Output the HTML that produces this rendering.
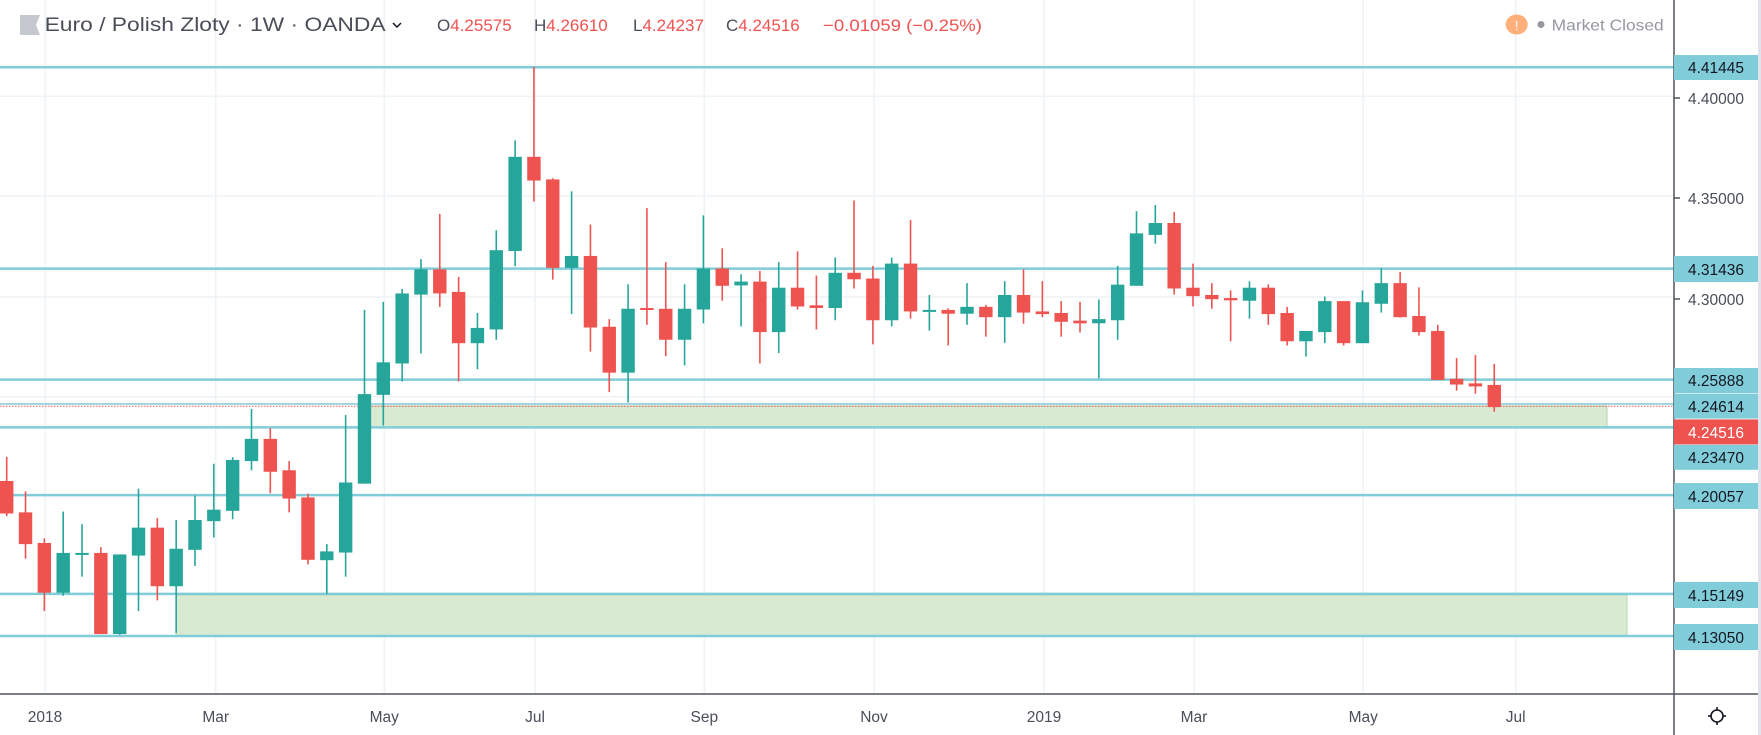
<!DOCTYPE html>
<html><head><meta charset="utf-8"><style>
html,body{margin:0;padding:0;background:#fff;width:1761px;height:735px;overflow:hidden}
svg{display:block}
text{font-family:"Liberation Sans","DejaVu Sans",sans-serif}
</style></head><body>
<svg id="s" width="1761" height="735" viewBox="0 0 1761 735" xmlns="http://www.w3.org/2000/svg">
<g id="grid" stroke="#eef3f7" stroke-width="1.5">
<line x1="45.3" y1="0" x2="45.3" y2="694"/><line x1="215.7" y1="0" x2="215.7" y2="694"/><line x1="384.3" y1="0" x2="384.3" y2="694"/><line x1="535" y1="0" x2="535" y2="694"/><line x1="704.3" y1="0" x2="704.3" y2="694"/><line x1="874" y1="0" x2="874" y2="694"/><line x1="1044" y1="0" x2="1044" y2="694"/><line x1="1194" y1="0" x2="1194" y2="694"/><line x1="1363.3" y1="0" x2="1363.3" y2="694"/><line x1="1515.7" y1="0" x2="1515.7" y2="694"/>
<line x1="0" y1="96.4" x2="1674" y2="96.4"/><line x1="0" y1="196" x2="1674" y2="196"/><line x1="0" y1="297" x2="1674" y2="297"/><line x1="0" y1="396.8" x2="1674" y2="396.8"/>
</g>
<rect x="370" y="406" width="1237" height="21.4" fill="#d9ead3" stroke="#b5d6ae" stroke-width="1"/>
<rect x="176" y="595" width="1451" height="41" fill="#d9ead3" stroke="#b5d6ae" stroke-width="1"/>
<g stroke="#80ccd9" stroke-width="2.5">
<line x1="0" y1="67.3" x2="1674" y2="67.3"/><line x1="0" y1="268.6" x2="1674" y2="268.6"/><line x1="0" y1="379.6" x2="1674" y2="379.6"/><line x1="0" y1="404" x2="1674" y2="404" stroke-width="1.5"/><line x1="0" y1="427.4" x2="1674" y2="427.4"/><line x1="0" y1="495.1" x2="1674" y2="495.1"/><line x1="0" y1="593.9" x2="1674" y2="593.9"/><line x1="0" y1="636" x2="1674" y2="636"/>
</g>
<line x1="0" y1="406.3" x2="1674" y2="406.3" stroke="#ef5350" stroke-width="1" stroke-dasharray="1.5,1.5"/>
<g id="candles"></g>
<!-- axes -->
<line x1="1674" y1="0" x2="1674" y2="735" stroke="#50535e" stroke-width="1.5"/>
<line x1="0" y1="694" x2="1761" y2="694" stroke="#50535e" stroke-width="1.5"/>
<rect x="1758" y="0" width="3" height="735" fill="#e0e3eb"/>
<g font-size="15.5" fill="#4a4e59">
<text x="45" y="722" text-anchor="middle">2018</text><text x="215.7" y="722" text-anchor="middle">Mar</text><text x="384.3" y="722" text-anchor="middle">May</text><text x="535" y="722" text-anchor="middle">Jul</text><text x="704.3" y="722" text-anchor="middle">Sep</text><text x="874" y="722" text-anchor="middle">Nov</text><text x="1044" y="722" text-anchor="middle">2019</text><text x="1194" y="722" text-anchor="middle">Mar</text><text x="1363.3" y="722" text-anchor="middle">May</text><text x="1515.7" y="722" text-anchor="middle">Jul</text>
</g>
<g stroke="#50535e" stroke-width="1.5">
<line x1="1674" y1="98" x2="1680" y2="98"/><line x1="1674" y1="198" x2="1680" y2="198"/><line x1="1674" y1="299" x2="1680" y2="299"/>
</g>
<g font-size="15.5" fill="#4a4e59">
<text x="1688" y="104">4.40000</text><text x="1688" y="204">4.35000</text><text x="1688" y="305">4.30000</text>
</g>
<g fill="#80ccd9">
<rect x="1674" y="55" width="84" height="25"/><rect x="1674" y="256" width="84" height="26"/><rect x="1674" y="368" width="84" height="25"/><rect x="1674" y="393.6" width="84" height="25"/><rect x="1674" y="444.8" width="84" height="25"/><rect x="1674" y="483" width="84" height="26"/><rect x="1674" y="582" width="84" height="26"/><rect x="1674" y="624" width="84" height="26"/>
</g>
<rect x="1674" y="419.4" width="84" height="25" fill="#ef5350"/>
<g font-size="15.5" fill="#131722">
<text x="1688" y="73">4.41445</text><text x="1688" y="275">4.31436</text><text x="1688" y="386">4.25888</text><text x="1688" y="412">4.24614</text><text x="1688" y="463">4.23470</text><text x="1688" y="502">4.20057</text><text x="1688" y="601">4.15149</text><text x="1688" y="643">4.13050</text>
</g>
<text x="1688" y="438" font-size="15.5" fill="#fff">4.24516</text>
<!-- gear -->
<g transform="translate(1717,716)" stroke="#131722" stroke-width="1.6" fill="none">
<circle r="6"/><line x1="-9" y1="0" x2="-6" y2="0"/><line x1="6" y1="0" x2="9" y2="0"/><line x1="0" y1="-9" x2="0" y2="-6"/><line x1="0" y1="6" x2="0" y2="9"/>
</g>
<!-- header -->
<polygon points="20,15 40,15 36,25 40,35 20,35" fill="#c5c8cf"/>
<text x="44.6" y="31" font-size="19" fill="#4a4e59" textLength="341" lengthAdjust="spacingAndGlyphs">Euro / Polish Zloty · 1W · OANDA</text>
<path d="M393,23 l4,4 l4,-4" stroke="#131722" stroke-width="1.5" fill="none"/>
<g font-size="17">
<text x="437" y="31" fill="#4a4e59">O<tspan fill="#ef5350">4.25575</tspan></text>
<text x="534" y="31" fill="#4a4e59">H<tspan fill="#ef5350">4.26610</tspan></text>
<text x="633" y="31" fill="#4a4e59">L<tspan fill="#ef5350">4.24237</tspan></text>
<text x="726" y="31" fill="#4a4e59">C<tspan fill="#ef5350">4.24516</tspan></text>
<text x="823" y="31" fill="#ef5350" textLength="159" lengthAdjust="spacingAndGlyphs">−0.01059 (−0.25%)</text>
</g>
<ellipse cx="1516.7" cy="24.5" rx="11" ry="10" fill="#ffb07a"/>
<text x="1516.7" y="30" font-size="13" fill="#fff" text-anchor="middle">!</text>
<circle cx="1541" cy="24.5" r="3.5" fill="#9598a1"/>
<text x="1551.7" y="30.5" font-size="16" fill="#9598a1" textLength="112" lengthAdjust="spacingAndGlyphs">Market Closed</text>
</svg>
<script>
var d=[[1037,1100,1185,1192,0],[1127,1182,1265,1303,0],[1250,1262,1392,1440,0],[1180,1288,1392,1400,1],[1213,1288,1292,1350,1],[1273,1288,1500,1500,0],[1292,1292,1500,1502,1],[1120,1222,1295,1440,1],[1197,1222,1375,1412,0],[1202,1277,1375,1497,1],
[1138,1202,1280,1322,1],[1055,1175,1205,1248,1],[1038,1045,1178,1200,1],[912,990,1048,1072,1],[962,990,1076,1132,0],[1048,1072,1146,1182,0],[1133,1143,1306,1318,0],[1265,1284,1307,1395,1],[928,1104,1287,1350,1],[653,873,1107,1107,1],
[632,790,875,955,1],[598,610,793,840,1],[520,547,613,767,1],[402,547,610,645,0],[567,606,740,840,0],[661,700,740,808,1],[445,497,704,731,1],[210,253,499,539,1],[18,253,315,370,0],[309,312,543,574,0],
[343,512,543,664,1],[430,512,699,762,0],[677,697,817,868,0],[586,650,817,895,1],[387,648,652,692,0],[528,650,731,774,0],[586,650,731,798,1],[406,545,652,688,1],[492,545,590,629,0],[560,579,589,696,1],
[551,579,711,793,0],[528,595,711,766,1],[500,595,644,652,0],[563,641,648,704,0],[516,556,648,680,1],[367,556,573,597,0],[538,571,680,743,0],[516,532,680,696,1],[418,532,657,676,0],[614,653,657,707,1],
[649,653,663,746,0],[583,645,663,692,1],[640,645,672,723,0],[578,614,672,739,1],[547,614,660,689,0],[578,657,664,672,0],[630,661,684,723,0],[632,681,688,712,0],[626,677,688,832,1],[538,587,680,731,1],
[395,453,590,590,1],[379,426,457,480,1],[397,426,597,613,0],[532,595,617,644,0],[583,614,625,650,0],[602,622,628,735,0],[578,595,629,676,1],[586,595,664,692,0],[645,661,735,746,0],[708,708,735,775,1],
[618,630,711,740,1],[630,630,740,746,0],[602,633,740,740,1],[544,583,637,660,1],[554,583,672,673,0],[594,669,711,720,0],[692,708,836,836,0],[779,833,848,864,0],[771,845,853,872,0],[794,849,907,919,0]];
var g=document.getElementById('candles'),ns='http://www.w3.org/2000/svg',h='';
function Y(z){return 60+z/2.613;}
for(var i=0;i<d.length;i++){var c=d[i],x=6.7+i*18.83,col=c[4]?'#26a69a':'#ef5350';
var bt=Y(c[1]),bb=Y(c[2]);if(bb-bt<2){bb=bt+2;}
h+='<line x1="'+x+'" x2="'+x+'" y1="'+Y(c[0])+'" y2="'+Y(c[3])+'" stroke="'+col+'" stroke-width="1.6"/>';
h+='<rect x="'+(x-6.7)+'" y="'+bt+'" width="13.4" height="'+(bb-bt)+'" fill="'+col+'"/>';}
g.innerHTML=h;
</script>
</body></html>
